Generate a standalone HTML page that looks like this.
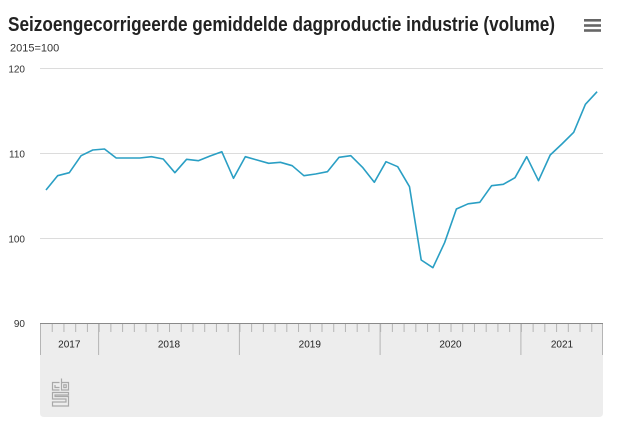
<!DOCTYPE html>
<html><head><meta charset="utf-8"><style>
html,body{margin:0;padding:0;background:#fff;}
svg{display:block;}
text{font-family:"Liberation Sans",sans-serif;}
</style></head><body>
<svg width="625" height="429" viewBox="0 0 625 429" xmlns="http://www.w3.org/2000/svg">
<rect width="625" height="429" fill="#fff"/>
<text x="8" y="31" font-size="20" font-weight="bold" fill="#222" textLength="547" lengthAdjust="spacingAndGlyphs">Seizoengecorrigeerde gemiddelde dagproductie industrie (volume)</text>
<g fill="#666"><rect x="584" y="19" width="17" height="2.6"/><rect x="584" y="24.2" width="17" height="2.6"/><rect x="584" y="29.2" width="17" height="2.6"/></g>
<text x="10" y="51.5" font-size="11" fill="#333">2015=100</text>
<path d="M40 68.5H603M40 153.5H603M40 238.5H603" stroke="#dcdcdc" stroke-width="1"/>
<g font-size="10" fill="#333" text-anchor="end">
<text x="25" y="72.5">120</text>
<text x="25" y="157.5">110</text>
<text x="25" y="242.5">100</text>
<text x="25" y="327">90</text>
</g>
<path d="M40 323.5 H603 V413 Q603 417 599 417 H44 Q40 417 40 413 Z" fill="#ededed"/>
<g font-size="10" fill="#222" text-anchor="middle">
<text x="69.3" y="347.5">2017</text>
<text x="169" y="347.5">2018</text>
<text x="309.8" y="347.5">2019</text>
<text x="450.5" y="347.5">2020</text>
<text x="562" y="347.5">2021</text>
</g>
<g fill="none" stroke="#a8a8a8" stroke-width="1.2">
<path d="M59.5 382.5 H52.5 V390 H59.5"/>
<path d="M55 385 V387.5 H59.5"/>
<path d="M61.5 378.5 V390 H68.5 V382.5 H61.5"/>
<rect x="63.8" y="384.8" width="2.4" height="2.8"/>
<path d="M68.5 392.5 H52.5 V399 H66 V402 H52.5 V406 H68.5 V396.5 H55 V395 H68.5 Z"/>
</g>
<polyline fill="none" stroke="#2a9fc4" stroke-width="1.6" stroke-linejoin="round" points="46,190 57.6,175.7 69.3,172.7 81.1,155.7 92.8,150 104.5,149 116.2,158 128,158 139.7,158 151.4,156.7 163.2,159 174.9,172.7 186.6,159.3 198.3,160.7 210.1,156 221.8,151.7 233.5,178.3 245.3,156.7 257,160 268.7,163.3 280.4,162.3 292.2,165.7 303.9,175.7 315.6,174 327.4,171.7 339.1,157.3 350.8,155.7 362.5,167.3 374.3,182.3 386,161.7 397.7,166.7 409.5,186.7 421.2,260 432.9,267.7 444.6,242.7 456.4,209 468.1,203.8 479.8,202.3 491.6,185.7 503.3,184.3 515,177.7 526.7,156.7 538.5,180.7 550.2,155 561.9,144 573.7,132.3 585.4,104.3 597.1,91.7"/>
<line x1="40" y1="327.5" x2="603" y2="327.5" stroke="#b5b5b5" stroke-width="9" stroke-dasharray="1 10.729"/>
<path d="M40.5 323V355M98.6 323V355M239.4 323V355M380.1 323V355M520.9 323V355M602.5 323V355" stroke="#b5b5b5" stroke-width="1"/>
<line x1="40" y1="323.5" x2="603" y2="323.5" stroke="#8a8a8a" stroke-width="1"/>
</svg>
</body></html>
